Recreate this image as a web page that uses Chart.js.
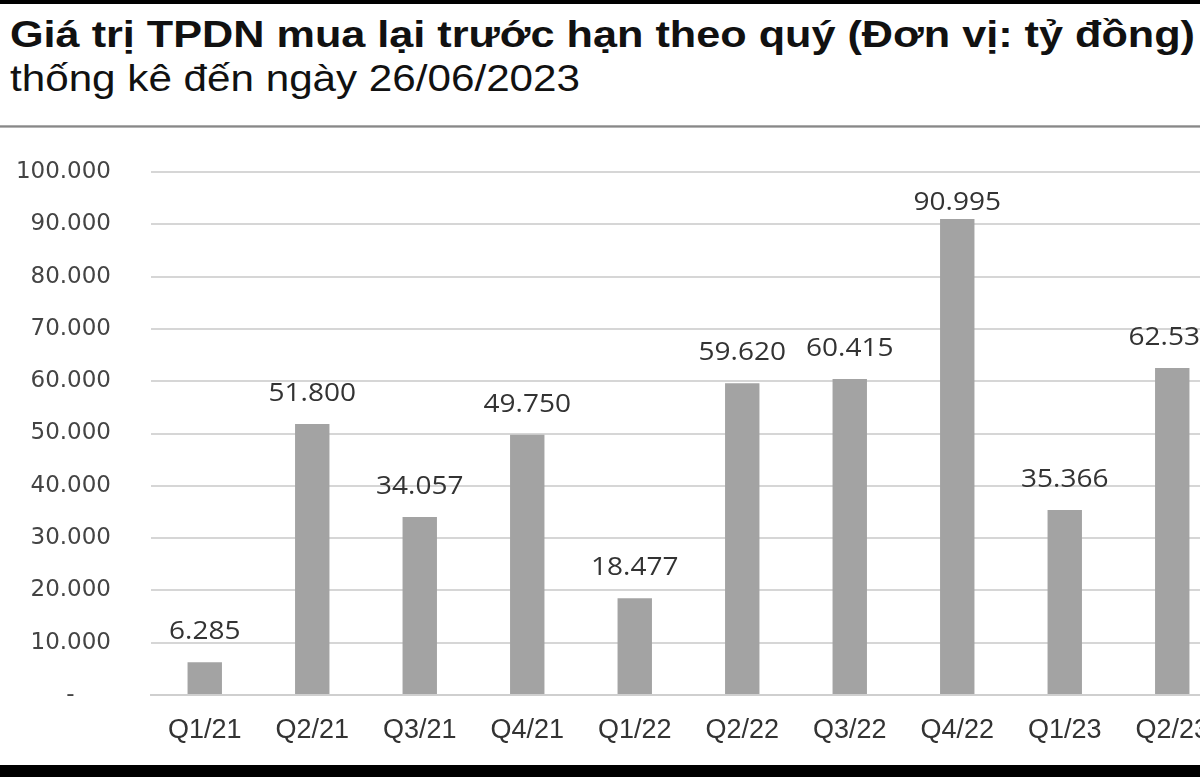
<!DOCTYPE html>
<html><head><meta charset="utf-8">
<script src="https://cdn.jsdelivr.net/npm/chart.js@4/dist/chart.umd.min.js"></script>
<style>
html,body{margin:0;padding:0;background:#000;width:1200px;height:777px;overflow:hidden;}
#page{position:absolute;left:0;top:4px;width:1200px;height:761px;background:#fff;overflow:hidden;}
.t{position:absolute;left:10px;line-height:1;white-space:nowrap;color:#111;transform-origin:0 0;font-family:"Liberation Sans",Arial,sans-serif;}
#t1{top:12px;font-weight:bold;font-size:37px;}
#t2{top:56px;font-size:37px;}
#sep{position:absolute;left:0;top:121px;width:1200px;height:3px;background:linear-gradient(#bbb,#888,#ccc);}
#wrap{position:absolute;left:0;top:126px;width:1230px;height:635px;}
</style></head>
<body>
<div id="page">
<div id="t1" class="t">Giá trị TPDN mua lại trước hạn theo quý (Đơn vị: tỷ đồng)</div>
<div id="t2" class="t">thống kê đến ngày 26/06/2023</div>
<div id="sep"></div>
<div id="wrap"><canvas id="c" width="1230" height="635"></canvas></div>
</div>
<script>
const categories = ["Q1/21","Q2/21","Q3/21","Q4/21","Q1/22","Q2/22","Q3/22","Q4/22","Q1/23","Q2/23"];
const values = [6285, 51800, 34057, 49750, 18477, 59620, 60415, 90995, 35366, 62530];
const yTicks = [0,10000,20000,30000,40000,50000,60000,70000,80000,90000,100000];

function fitWidth(id, w){
  const el = document.getElementById(id);
  const cur = el.getBoundingClientRect().width;
  el.style.transform = 'scaleX(' + (w/cur) + ')';
}
fitWidth('t1', 1185);
fitWidth('t2', 570);

function fmt(v){ return v.toLocaleString('de-DE'); }

const labelPlugin = {
  id:'vals',
  afterDatasetsDraw(chart){
    const ctx = chart.ctx;
    const meta = chart.getDatasetMeta(0);
    const minBase = chart.chartArea.top + 38;
    ctx.save();
    ctx.font = '25px "Open Sans", sans-serif';
    ctx.fillStyle = '#333';
    ctx.textAlign = 'center';
    ctx.textBaseline = 'alphabetic';
    meta.data.forEach((bar,i)=>{
      ctx.save();
      ctx.translate(bar.x, Math.max(bar.y - 23, minBase));
      ctx.scale(1.12, 1);
      ctx.fillText(fmt(values[i]), 0, 0);
      ctx.restore();
    });
    ctx.restore();
  }
};

new Chart(document.getElementById('c'), {
  type:'bar',
  data:{labels:categories, datasets:[{data:values, backgroundColor:'#a3a3a3', borderWidth:0,
    categoryPercentage:0.64, barPercentage:0.5}]},
  options:{
    responsive:false, animation:false,
    layout:{padding:{top:42,right:4,left:0,bottom:0}},
    plugins:{legend:{display:false}, tooltip:{enabled:false}},
    scales:{
      x:{
        grid:{display:false, drawTicks:false},
        border:{display:true, color:'#cfcfcf', width:2},
        ticks:{font:{family:'"Liberation Sans", Arial, sans-serif', size:27}, color:'#333', padding:19, maxRotation:0, autoSkip:false},
        afterFit(s){ s.height = 70; s.paddingTop = 0; s.paddingBottom = 0; s.paddingLeft = 0; s.paddingRight = 0; }
      },
      y:{
        min:0, max:100000,
        afterBuildTicks(s){ s.ticks = yTicks.map(v=>({value:v})); },
        grid:{color:'#d6d6d6', lineWidth:2, drawTicks:false},
        border:{display:false},
        ticks:{font:{family:'"DejaVu Sans", sans-serif', size:23}, color:'#444', padding:40,
          callback:(v)=> v===0 ? '-     ' : fmt(v)},
        afterFit(s){ s.width = 151; s.paddingTop = 0; s.paddingBottom = 0; }
      }
    }
  },
  plugins:[labelPlugin]
});
</script>
</body></html>
